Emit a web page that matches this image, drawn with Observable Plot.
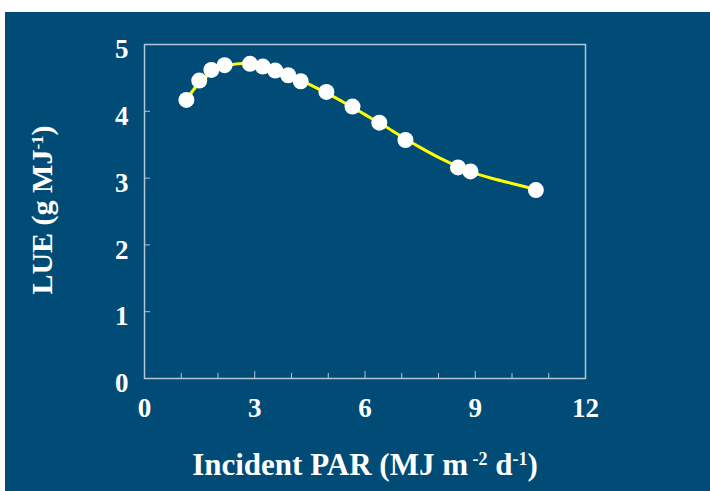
<!DOCTYPE html>
<html>
<head>
<meta charset="utf-8">
<script src="https://cdn.jsdelivr.net/npm/d3@7"></script>
<script src="https://cdn.jsdelivr.net/npm/@observablehq/plot@0.6"></script>
<style>
  html, body { margin: 0; padding: 0; background: #ffffff; }
  #wrap { position: absolute; left: 5px; top: 12px; width: 705px; height: 479px; }
</style>
</head>
<body>
<div id="wrap"></div>
<script>
// Observed data points
const parX = [1.14, 1.49, 1.82, 2.18, 2.87, 3.22, 3.56, 3.91, 4.25, 4.95, 5.66, 6.39, 7.10, 8.53, 8.87, 10.65];
const lueY = [4.17, 4.46, 4.62, 4.69, 4.71, 4.67, 4.61, 4.54, 4.45, 4.29, 4.07, 3.83, 3.57, 3.16, 3.10, 2.82];

// Fitted curve
const fitX = [1.14, 1.5, 2.0, 2.5, 3.0, 3.5, 4.0, 4.5, 5.0, 5.5, 6.0, 6.5, 7.0, 7.5, 8.0, 8.5, 9.0, 9.5, 10.0, 10.65];
const fitY = [4.17, 4.43, 4.63, 4.71, 4.70, 4.63, 4.53, 4.40, 4.26, 4.11, 3.95, 3.79, 3.62, 3.46, 3.31, 3.18, 3.07, 2.99, 2.92, 2.83];

// Axis ticks
const xMajorTicks = [0, 3, 6, 9, 12];
const xMinorTicks = [1, 2, 4, 5, 7, 8, 10, 11];
const yTicks = [0, 1, 2, 3, 4, 5];

const points = parX.map((x, i) => ({x, y: lueY[i]}));
const fit = fitX.map((x, i) => ({x, y: fitY[i]}));

const frameColor = "#b3c7d8";
const serif = "'Liberation Serif', 'Times New Roman', serif";

const chart = Plot.plot({
  width: 705,
  height: 479,
  marginLeft: 139,
  marginRight: 125,
  marginTop: 32,
  marginBottom: 113,
  style: {
    background: "#014b77",
    color: "#ffffff",
    fontFamily: serif,
    fontWeight: "bold",
    fontSize: "27px",
    overflow: "visible"
  },
  x: {domain: [0, 12], label: null},
  y: {domain: [0, 5], label: null},
  marks: [
    Plot.frame({stroke: frameColor, strokeWidth: 1.5}),
    Plot.axisX({ticks: xMinorTicks, tickSize: 5, dy: -5, tickFormat: () => "", stroke: frameColor, label: null}),
    Plot.axisX({ticks: xMajorTicks, tickSize: 7, dy: -7, tickFormat: () => "", stroke: frameColor, label: null}),
    Plot.axisX({ticks: xMajorTicks, tickSize: 0, tickPadding: 19, tickFormat: "d", fontSize: 27, fontWeight: "bold", fill: "#ffffff", label: null}),
    Plot.axisY({ticks: yTicks, tickSize: 6, dx: 6, tickFormat: () => "", stroke: frameColor, label: null}),
    Plot.axisY({ticks: yTicks, tickSize: 0, tickPadding: 16, dy: 5, tickFormat: "d", fontSize: 27, fontWeight: "bold", fill: "#ffffff", label: null}),
    Plot.line(fit, {x: "x", y: "y", curve: "catmull-rom", stroke: "#ffff00", strokeWidth: 3}),
    Plot.dot(points, {x: "x", y: "y", r: 8, fill: "#ffffff", stroke: "none"})
  ]
});

document.getElementById("wrap").appendChild(chart);

// Axis titles with superscripts
const svg = d3.select(chart);
const tx = svg.append("text")
  .attr("x", 360).attr("y", 463)
  .attr("text-anchor", "middle")
  .attr("fill", "#ffffff")
  .style("font-family", serif)
  .style("font-weight", "bold")
  .style("font-size", "31px");
tx.append("tspan").text("Incident PAR (MJ m");
tx.append("tspan").attr("baseline-shift", "super").style("font-size", "18px").text(" -2");
tx.append("tspan").text(" d");
tx.append("tspan").attr("baseline-shift", "super").style("font-size", "18px").text("-1");
tx.append("tspan").text(")");

const ty = svg.append("text")
  .attr("transform", "translate(47,198) rotate(-90)")
  .attr("text-anchor", "middle")
  .attr("fill", "#ffffff")
  .style("font-family", serif)
  .style("font-weight", "bold")
  .style("font-size", "30px");
ty.append("tspan").text("LUE (g MJ");
ty.append("tspan").attr("baseline-shift", "super").style("font-size", "17px").text("-1");
ty.append("tspan").text(")");
</script>
</body>
</html>
